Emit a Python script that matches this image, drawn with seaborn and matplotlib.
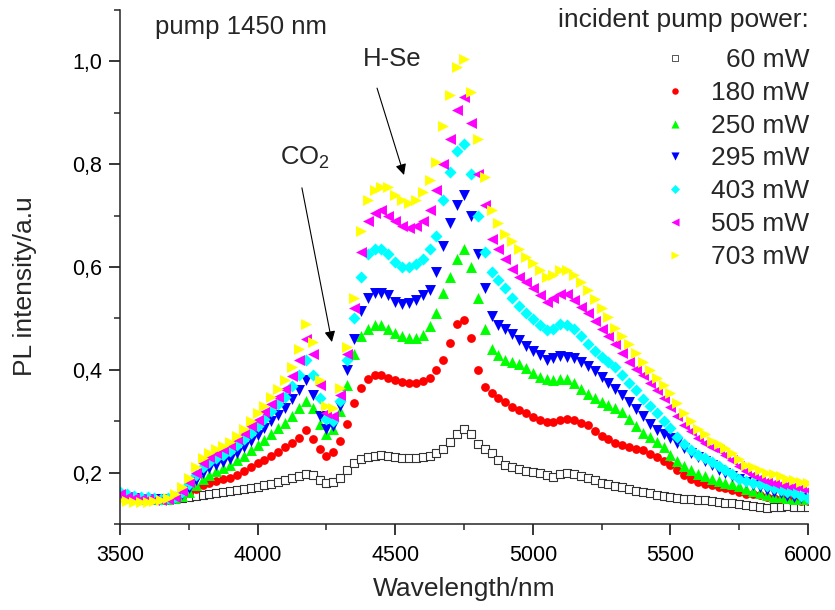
import numpy as np
import pandas as pd
import matplotlib
matplotlib.use("Agg")
import matplotlib.pyplot as plt
from matplotlib.ticker import MultipleLocator, FuncFormatter
import seaborn as sns

# ------------------------------------------------------------
# datos (paso 25 nm, 3500-6000 nm)
# ------------------------------------------------------------
wavelength = np.arange(3500, 6001, 25)

pl_60 = [
    0.152, 0.150, 0.150, 0.149, 0.149, 0.148, 0.148, 0.148, 0.149, 0.150,
    0.152, 0.155, 0.157, 0.159, 0.160, 0.162, 0.164, 0.166, 0.168, 0.170,
    0.172, 0.175, 0.178, 0.182, 0.186, 0.190, 0.194, 0.198, 0.195, 0.186,
    0.180, 0.182, 0.190, 0.205, 0.218, 0.226, 0.230, 0.233, 0.234, 0.232,
    0.230, 0.229, 0.228, 0.228, 0.230, 0.233, 0.238, 0.246, 0.260, 0.276,
    0.285, 0.275, 0.255, 0.245, 0.238, 0.225, 0.214, 0.210, 0.207, 0.204,
    0.202, 0.200, 0.196, 0.192, 0.198, 0.200, 0.197, 0.194, 0.190, 0.185,
    0.180, 0.177, 0.174, 0.171, 0.168, 0.165, 0.162, 0.160, 0.157, 0.155,
    0.153, 0.151, 0.149, 0.148, 0.147, 0.146, 0.145, 0.143, 0.141, 0.140,
    0.138, 0.137, 0.135, 0.134, 0.132, 0.133, 0.134, 0.135, 0.134, 0.134,
    0.134,
]
pl_180 = [
    0.155, 0.152, 0.151, 0.150, 0.149, 0.148, 0.147, 0.147, 0.148, 0.152,
    0.160, 0.168, 0.175, 0.180, 0.184, 0.187, 0.190, 0.196, 0.203, 0.210,
    0.218, 0.225, 0.233, 0.241, 0.249, 0.258, 0.268, 0.283, 0.265, 0.245,
    0.232, 0.240, 0.262, 0.295, 0.335, 0.365, 0.383, 0.390, 0.390, 0.385,
    0.380, 0.377, 0.375, 0.375, 0.378, 0.385, 0.400, 0.420, 0.452, 0.490,
    0.497, 0.462, 0.400, 0.367, 0.355, 0.345, 0.337, 0.328, 0.322, 0.315,
    0.309, 0.303, 0.298, 0.298, 0.303, 0.305, 0.302, 0.297, 0.292, 0.280,
    0.272, 0.265, 0.258, 0.254, 0.249, 0.246, 0.243, 0.237, 0.230, 0.222,
    0.214, 0.205, 0.195, 0.187, 0.182, 0.178, 0.175, 0.172, 0.170, 0.166,
    0.162, 0.159, 0.158, 0.156, 0.153, 0.151, 0.149, 0.148, 0.147, 0.145,
    0.144,
]
pl_250 = [
    0.155, 0.152, 0.150, 0.149, 0.149, 0.148, 0.148, 0.148, 0.150, 0.155,
    0.163, 0.175, 0.188, 0.196, 0.203, 0.209, 0.215, 0.224, 0.233, 0.243,
    0.254, 0.264, 0.275, 0.286, 0.297, 0.310, 0.325, 0.340, 0.325, 0.295,
    0.275, 0.285, 0.320, 0.370, 0.430, 0.465, 0.480, 0.487, 0.487, 0.480,
    0.472, 0.466, 0.462, 0.462, 0.468, 0.485, 0.510, 0.550, 0.580, 0.615,
    0.635, 0.600, 0.540, 0.480, 0.440, 0.428, 0.420, 0.416, 0.412, 0.403,
    0.394, 0.386, 0.382, 0.380, 0.382, 0.382, 0.375, 0.362, 0.352, 0.345,
    0.338, 0.332, 0.325, 0.318, 0.305, 0.290, 0.278, 0.270, 0.260, 0.250,
    0.235, 0.222, 0.213, 0.205, 0.198, 0.193, 0.188, 0.184, 0.180, 0.177,
    0.173, 0.168, 0.164, 0.160, 0.157, 0.153, 0.152, 0.150, 0.149, 0.148,
    0.148,
]
pl_295 = [
    0.155, 0.152, 0.150, 0.149, 0.148, 0.148, 0.148, 0.148, 0.150, 0.158,
    0.170, 0.186, 0.200, 0.208, 0.215, 0.220, 0.227, 0.238, 0.250, 0.262,
    0.274, 0.287, 0.300, 0.313, 0.326, 0.343, 0.360, 0.380, 0.350, 0.310,
    0.285, 0.290, 0.330, 0.400, 0.460, 0.515, 0.540, 0.550, 0.550, 0.545,
    0.532, 0.528, 0.530, 0.535, 0.545, 0.555, 0.590, 0.640, 0.685, 0.720,
    0.740, 0.700, 0.625, 0.560, 0.505, 0.487, 0.480, 0.470, 0.458, 0.447,
    0.437, 0.428, 0.420, 0.422, 0.426, 0.425, 0.422, 0.415, 0.408, 0.397,
    0.386, 0.375, 0.363, 0.350, 0.338, 0.324, 0.310, 0.295, 0.283, 0.275,
    0.267, 0.258, 0.248, 0.238, 0.230, 0.222, 0.214, 0.206, 0.200, 0.194,
    0.188, 0.182, 0.176, 0.171, 0.167, 0.163, 0.160, 0.155, 0.152, 0.150,
    0.148,
]
pl_403 = [
    0.162, 0.158, 0.155, 0.153, 0.152, 0.150, 0.149, 0.150, 0.152, 0.162,
    0.177, 0.195, 0.210, 0.220, 0.228, 0.234, 0.242, 0.253, 0.265, 0.278,
    0.290, 0.305, 0.320, 0.334, 0.348, 0.368, 0.390, 0.420, 0.390, 0.345,
    0.305, 0.300, 0.340, 0.420, 0.500, 0.580, 0.625, 0.635, 0.635, 0.625,
    0.610, 0.600, 0.600, 0.605, 0.615, 0.635, 0.660, 0.730, 0.785, 0.825,
    0.840, 0.780, 0.700, 0.630, 0.590, 0.575, 0.560, 0.540, 0.525, 0.510,
    0.498, 0.488, 0.478, 0.480, 0.490, 0.488, 0.480, 0.465, 0.450, 0.437,
    0.425, 0.415, 0.405, 0.390, 0.375, 0.360, 0.343, 0.330, 0.316, 0.300,
    0.287, 0.270, 0.255, 0.243, 0.235, 0.228, 0.220, 0.212, 0.205, 0.197,
    0.188, 0.183, 0.180, 0.177, 0.173, 0.170, 0.166, 0.162, 0.160, 0.155,
    0.151,
]
pl_505 = [
    0.158, 0.153, 0.150, 0.149, 0.148, 0.147, 0.147, 0.148, 0.153, 0.165,
    0.182, 0.200, 0.218, 0.230, 0.238, 0.245, 0.253, 0.265, 0.278, 0.290,
    0.302, 0.318, 0.333, 0.348, 0.363, 0.388, 0.420, 0.460, 0.430, 0.370,
    0.315, 0.310, 0.350, 0.430, 0.520, 0.630, 0.690, 0.705, 0.710, 0.700,
    0.690, 0.680, 0.675, 0.680, 0.690, 0.710, 0.750, 0.800, 0.850, 0.905,
    0.930, 0.880, 0.780, 0.720, 0.655, 0.635, 0.615, 0.597, 0.580, 0.570,
    0.560, 0.545, 0.532, 0.540, 0.548, 0.548, 0.535, 0.522, 0.510, 0.495,
    0.480, 0.465, 0.450, 0.433, 0.415, 0.402, 0.390, 0.375, 0.360, 0.345,
    0.328, 0.310, 0.293, 0.280, 0.268, 0.258, 0.250, 0.243, 0.235, 0.225,
    0.213, 0.203, 0.196, 0.190, 0.184, 0.180, 0.178, 0.176, 0.174, 0.170,
    0.167,
]
pl_703 = [
    0.146, 0.144, 0.143, 0.143, 0.143, 0.144, 0.146, 0.150, 0.158, 0.172,
    0.190, 0.210, 0.228, 0.238, 0.245, 0.252, 0.260, 0.272, 0.285, 0.300,
    0.315, 0.330, 0.347, 0.363, 0.380, 0.405, 0.440, 0.490, 0.455, 0.380,
    0.330, 0.325, 0.365, 0.445, 0.540, 0.670, 0.730, 0.750, 0.755, 0.755,
    0.740, 0.730, 0.725, 0.730, 0.745, 0.770, 0.805, 0.875, 0.935, 0.990,
    1.005, 0.940, 0.850, 0.775, 0.710, 0.685, 0.665, 0.650, 0.635, 0.620,
    0.608, 0.594, 0.580, 0.585, 0.595, 0.595, 0.585, 0.570, 0.555, 0.538,
    0.520, 0.502, 0.482, 0.465, 0.450, 0.432, 0.415, 0.400, 0.385, 0.370,
    0.355, 0.335, 0.315, 0.300, 0.285, 0.275, 0.262, 0.255, 0.248, 0.238,
    0.226, 0.215, 0.210, 0.205, 0.200, 0.198, 0.193, 0.188, 0.185, 0.182,
    0.180,
]

labels = ["60 mW", "180 mW", "250 mW", "295 mW", "403 mW", "505 mW", "703 mW"]
series = [pl_60, pl_180, pl_250, pl_295, pl_403, pl_505, pl_703]
colors = ["white", "#ff0000", "#00ff00", "#0000ff", "#00ffff", "#ff00ff", "#ffff00"]
markers = ["s", "o", "^", "v", "D", "<", ">"]
sizes = [30, 40, 62, 62, 38, 62, 62]

# ------------------------------------------------------------
# estilo
# ------------------------------------------------------------
sns.set_style("ticks")
plt.rcParams["font.family"] = ["Liberation Sans", "DejaVu Sans"]
plt.rcParams["mathtext.default"] = "regular"
plt.rcParams["axes.linewidth"] = 1.1

fig = plt.figure(figsize=(8.35, 6.10), dpi=100)
ax = fig.add_axes([0.1437, 0.141, 0.824, 0.8426])

for vals, col, mk, sz in zip(series, colors, markers, sizes):
    if mk == "s":
        sns.scatterplot(x=wavelength, y=vals, marker=mk, color=col, s=sz,
                        edgecolor="#333333", linewidth=0.8, ax=ax, legend=False)
    else:
        sns.scatterplot(x=wavelength, y=vals, marker=mk, color=col, s=sz,
                        linewidth=0, ax=ax, legend=False)

ax.set_xlim(3500, 6000)
ax.set_ylim(0.1, 1.1)
ax.xaxis.set_major_locator(MultipleLocator(500))
ax.xaxis.set_minor_locator(MultipleLocator(250))
ax.yaxis.set_minor_locator(MultipleLocator(0.1))
ax.set_yticks([0.2, 0.4, 0.6, 0.8, 1.0])
ax.yaxis.set_major_formatter(FuncFormatter(lambda v, p: f"{v:.1f}".replace(".", ",")))
ax.tick_params(which="major", length=8, width=1.1, direction="out",
               labelsize=15.5, pad=5, colors="black")
ax.tick_params(axis="x", which="major", pad=7)
ax.tick_params(which="minor", length=4.5, width=1.1, direction="out")
sns.despine(ax=ax)

ax.set_xlabel("Wavelength/nm", fontsize=19)
ax.set_ylabel("PL intensity/a.u", fontsize=19)
ax.xaxis.set_label_coords(0.5, -0.103)
ax.yaxis.set_label_coords(-0.12, 0.463)

# textos y flechas
ax.text(3627, 1.053, "pump 1450 nm", fontsize=18.5, ha="left", va="baseline")
ax.text(4383, 0.991, "H-Se", fontsize=18.5, ha="left", va="baseline")
ax.text(4081, 0.798, "CO$_2$", fontsize=18.5, ha="left", va="baseline")
arrow_kw = dict(arrowstyle="-|>", color="black", lw=0.8, mutation_scale=16,
                shrinkA=0, shrinkB=0)
ax.annotate("", xy=(4270, 0.454), xytext=(4161, 0.754), arrowprops=arrow_kw)
ax.annotate("", xy=(4532, 0.779), xytext=(4434, 0.948), arrowprops=arrow_kw)

# leyenda manual (etiquetas alineadas a la derecha)
ax.text(1.0015, 0.967, "incident pump power:", transform=ax.transAxes,
        fontsize=19, ha="right", va="baseline")
for i, (lab, col, mk, sz) in enumerate(zip(labels, colors, markers, sizes)):
    ym = 0.9066 - i * 0.0638
    yt = 0.889 - i * 0.0638
    if mk == "s":
        ax.scatter([0.8067], [ym], transform=ax.transAxes, marker=mk, s=18,
                   facecolor="white", edgecolor="#555555", linewidth=0.7,
                   clip_on=False)
    else:
        ax.scatter([0.8067], [ym], transform=ax.transAxes, marker=mk,
                   s=sz * 0.55, color=col, linewidth=0, clip_on=False)
    ax.text(1.0015, yt, lab, transform=ax.transAxes, fontsize=19,
            ha="right", va="baseline")

fig.savefig("out.png", dpi=100)
plt.close(fig)
